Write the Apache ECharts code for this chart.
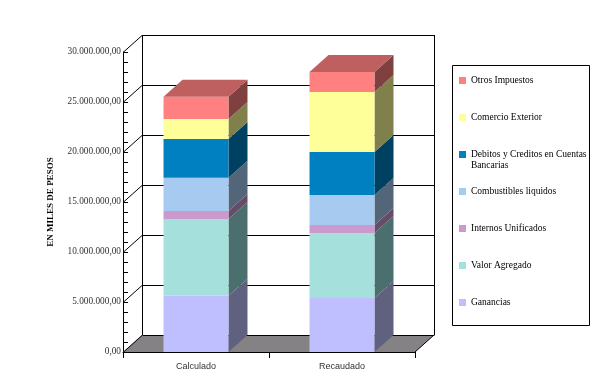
<!DOCTYPE html>
<html><head><meta charset="utf-8">
<script src="https://cdn.jsdelivr.net/npm/echarts@6/dist/echarts.min.js"></script>
<style>html,body{margin:0;padding:0;background:#fff}#c{width:610px;height:385px}</style>
</head><body><div id="c"></div>
<script>
// ---- data ----
const categories = ['Calculado', 'Recaudado'];
const seriesNames = ['Ganancias', 'Valor Agregado', 'Internos Unificados', 'Combustibles liquidos',
  'Debitos y Creditos en Cuentas Bancarias', 'Comercio Exterior', 'Otros Impuestos'];
const ganancias     = [5630000, 5400000];
const valorAgregado = [7670000, 6500000];
const internos      = [800000, 800000];
const combustibles  = [3330000, 3000000];
const debitos       = [3870000, 4300000];
const comercio      = [2000000, 6000000];
const otros         = [2230000, 2000000];
const yTicks = [0, 5000000, 10000000, 15000000, 20000000, 25000000, 30000000];

// ---- styles ----
const frontColors = ['#BFBFFF', '#A6E0DD', '#CC99CC', '#A6CAF0', '#0080C0', '#FFFF99', '#FF8080'];
const sideColors  = ['#60607F', '#4B6F6E', '#664C66', '#536578', '#004060', '#80804C', '#804040'];
const topColor = '#BF6060';
const DX = 19, DY = -17, BAR_FRAC = 0.445;

const values = [ganancias, valorAgregado, internos, combustibles, debitos, comercio, otros];
const bases = [];
values.forEach((v, s) => {
  bases.push(categories.map((c, i) => s === 0 ? 0 : bases[s - 1][i] + values[s - 1][i]));
});

function fmt(v) {
  const s = Math.round(v).toString().replace(/\B(?=(\d{3})+(?!\d))/g, '.');
  return s + ',00';
}

const chart = echarts.init(document.getElementById('c'));

const decoSeries = {
  type: 'custom', name: '__deco', silent: true, z: 1,
  data: [[0, 0]],
  renderItem: function (params, api) {
    const cs = params.coordSys;
    const xl = cs.x, xr = cs.x + cs.width;
    const y0 = api.coord([0, 0])[1];
    const children = [];
    children.push({ type: 'polygon', shape: { points: [[xl, y0], [xr, y0], [xr + DX, y0 + DY], [xl + DX, y0 + DY]] },
      style: { fill: '#858285' } });
    const yt = Math.round(api.coord([0, yTicks[yTicks.length - 1]])[1]);
    const yb = Math.round(y0);
    const bl = Math.round(xl + DX) + 0.5, br = Math.round(xr + DX) + 0.5;
    children.push({ type: 'line', shape: { x1: bl, y1: yt + DY, x2: bl, y2: yb + DY }, style: { stroke: '#000', lineWidth: 1 } });
    children.push({ type: 'line', shape: { x1: br, y1: yt + DY, x2: br, y2: yb + DY }, style: { stroke: '#000', lineWidth: 1 } });
    yTicks.forEach(function (t) {
      const y = Math.round(api.coord([0, t])[1]) + 0.5;
      children.push({ type: 'line', shape: { x1: bl, y1: y + DY, x2: br, y2: y + DY }, style: { stroke: '#000', lineWidth: 1 } });
      children.push({ type: 'line', shape: { x1: xl, y1: y, x2: xl + DX, y2: y + DY }, style: { stroke: '#000', lineWidth: 1 } });
    });
    children.push({ type: 'line', shape: { x1: xr, y1: y0, x2: xr + DX, y2: y0 + DY }, style: { stroke: '#000', lineWidth: 1 } });
    return { type: 'group', children: children };
  }
};

const barSeries = seriesNames.map(function (name, s) {
  return {
    type: 'custom', name: name, z: 2 + s,
    itemStyle: { color: frontColors[s] },
    encode: { x: 0, y: [1, 2] },
    data: categories.map((c, i) => [i, bases[s][i], bases[s][i] + values[s][i]]),
    renderItem: function (params, api) {
      const i = api.value(0), lo = api.value(1), hi = api.value(2);
      const pLo = api.coord([i, lo]), pHi = api.coord([i, hi]);
      const w = api.size([1, 0])[0] * BAR_FRAC;
      const x0 = pLo[0] - w / 2, x1 = x0 + w;
      const children = [
        { type: 'polygon', shape: { points: [[x1, pHi[1]], [x1 + DX, pHi[1] + DY], [x1 + DX, pLo[1] + DY], [x1, pLo[1]]] },
          style: { fill: sideColors[s] } },
        { type: 'rect', shape: { x: x0, y: pHi[1], width: w, height: pLo[1] - pHi[1] }, style: { fill: frontColors[s] } }
      ];
      if (s === seriesNames.length - 1) {
        children.push({ type: 'polygon', shape: { points: [[x0, pHi[1]], [x1, pHi[1]], [x1 + DX, pHi[1] + DY], [x0 + DX, pHi[1] + DY]] },
          style: { fill: topColor } });
      }
      return { type: 'group', children: children };
    }
  };
});

chart.setOption({
  animation: false,
  backgroundColor: '#fff',
  grid: { left: 123, right: 195, top: 52, bottom: 33, outerBoundsMode: 'none' },
  xAxis: {
    type: 'category', data: categories,
    axisLine: { show: true, lineStyle: { color: '#000', width: 1 } },
    axisTick: { show: true, length: 6, lineStyle: { color: '#000' } },
    axisLabel: { fontFamily: 'Liberation Sans', fontSize: 9, color: '#333', margin: 10 },
    splitLine: { show: false }
  },
  yAxis: {
    type: 'value', min: 0, max: 30000000, interval: 5000000,
    axisLine: { show: true, lineStyle: { color: '#000', width: 1 } },
    axisTick: { show: true, inside: true, length: 5, lineStyle: { color: '#000' } },
    minorTick: { show: true, splitNumber: 5, length: 5, lineStyle: { color: '#000' } },
    splitLine: { show: false },
    axisLabel: { formatter: fmt, fontFamily: 'Liberation Serif', fontSize: 9.3, color: '#333', margin: 2 },
    name: 'EN MILES DE PESOS', nameLocation: 'middle', nameRotate: 90, nameGap: 68,
    nameTextStyle: { fontFamily: 'Liberation Serif', fontWeight: 'bold', fontSize: 9, color: '#000' }
  },
  legend: {
    orient: 'vertical', left: 459, top: 64, padding: 0,
    itemWidth: 7, itemHeight: 7, itemGap: 4, icon: 'rect',
    data: seriesNames.slice().reverse(),
    textStyle: { fontFamily: 'Liberation Serif', fontSize: 9.5, lineHeight: 11, color: '#000' },
    formatter: function (name) {
      if (name === 'Debitos y Creditos en Cuentas Bancarias') return ' \nDebitos y Creditos en Cuentas\nBancarias';
      return ' \n' + name + '\n ';
    }
  },
  graphic: [{
    type: 'rect', silent: true, z: 0,
    shape: { x: 452.5, y: 65.5, width: 137, height: 260 },
    style: { fill: '#fff', stroke: '#000', lineWidth: 1 }
  }],
  series: [decoSeries].concat(barSeries)
});
</script>
</body></html>
